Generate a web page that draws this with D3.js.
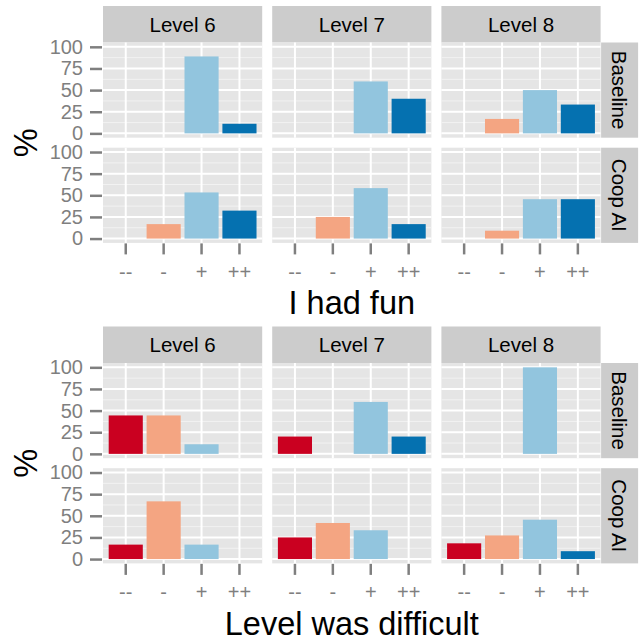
<!DOCTYPE html>
<html>
<head>
<meta charset="utf-8">
<script src="https://cdn.jsdelivr.net/npm/d3@7"></script>
<style>
  body { margin: 0; background: #fff; }
  svg { display: block; font-family: "Liberation Sans", Arial, sans-serif; }
</style>
</head>
<body>
<svg id="chart" width="639" height="639"></svg>
<script>
// categories and facets
var answers = ["--", "-", "+", "++"];
var levels = ["Level 6", "Level 7", "Level 8"];
var groups = ["Baseline", "Coop AI"];
var yTicks = [0, 25, 50, 75, 100];
var yMinor = [12.5, 37.5, 62.5, 87.5];
var colors = ["#ca0020", "#f4a582", "#92c5de", "#0571b0"];

// "I had fun" -- one row per level, values in % for -- - + ++
var funBaseline = [[0, 0, 88.9, 11.1], [0, 0, 60, 40], [0, 16.7, 50, 33.3]];
var funCoop = [[0, 16.7, 53.3, 32.3], [0, 25, 58.3, 16.7], [0, 9.1, 45.5, 45.5]];

// "Level was difficult"
var diffBaseline = [[44.4, 44.4, 11.1, 0], [20, 0, 60, 20], [0, 0, 100, 0]];
var diffCoop = [[16.7, 66.7, 16.7, 0], [25, 41.7, 33.3, 0], [18.2, 27.3, 45.5, 9.1]];

var svg = d3.select("#chart");

var layout = {
  left: 103,
  stripTop: 6,
  stripH: 36.5,
  panelW: 159.2,
  panelH: 95.2,
  gap: 10,
  rightStrip: 37
};

function drawFacets(offsetY, title, baseline, coop) {
  var g = svg.append("g")
      .attr("transform", "translate(0," + offsetY + ")");
  var L = layout;
  var panelTop = L.stripTop + L.stripH;
  var rows = [baseline, coop];

  var x = d3.scaleBand()
      .domain(answers)
      .range([0, L.panelW])
      .paddingInner(0.1)
      .paddingOuter(0.15);

  levels.forEach(function(level, c) {
    var px = L.left + c * (L.panelW + L.gap);

    // top strip
    g.append("rect")
        .attr("x", px).attr("y", L.stripTop)
        .attr("width", L.panelW).attr("height", L.stripH)
        .attr("fill", "#cccccc");
    g.append("text")
        .attr("x", px + L.panelW / 2)
        .attr("y", L.stripTop + L.stripH / 2)
        .attr("dy", "0.36em")
        .attr("text-anchor", "middle")
        .style("font-size", "20.5px")
        .text(level);

    rows.forEach(function(rowData, r) {
      var py = panelTop + r * (L.panelH + L.gap);
      var y = d3.scaleLinear()
          .domain([-5, 105])
          .range([py + L.panelH, py]);

      var panel = g.append("g");
      panel.append("rect")
          .attr("x", px).attr("y", py)
          .attr("width", L.panelW).attr("height", L.panelH)
          .attr("fill", "#e5e5e5");

      panel.selectAll(".minor")
        .data(yMinor)
        .enter().append("line")
          .attr("x1", px).attr("x2", px + L.panelW)
          .attr("y1", d => y(d)).attr("y2", d => y(d))
          .attr("stroke", "#f2f2f2")
          .attr("stroke-width", 1);

      panel.selectAll(".major")
        .data(yTicks)
        .enter().append("line")
          .attr("x1", px).attr("x2", px + L.panelW)
          .attr("y1", d => y(d)).attr("y2", d => y(d))
          .attr("stroke", "#ffffff")
          .attr("stroke-width", 2);

      panel.selectAll(".vgrid")
        .data(answers)
        .enter().append("line")
          .attr("x1", d => px + x(d) + x.bandwidth() / 2)
          .attr("x2", d => px + x(d) + x.bandwidth() / 2)
          .attr("y1", py).attr("y2", py + L.panelH)
          .attr("stroke", "#ffffff")
          .attr("stroke-width", 2);

      var bars = answers.map((a, i) => ({ answer: a, idx: i, value: rowData[c][i] }))
                        .filter(d => d.value > 0);

      panel.selectAll(".bar")
        .data(bars)
        .enter().append("rect")
          .classed("bar", true)
          .attr("x", d => px + x(d.answer))
          .attr("width", x.bandwidth())
          .attr("y", d => y(d.value))
          .attr("height", d => y(0) - y(d.value))
          .attr("fill", d => colors[d.idx]);

      // y axis on first column
      if (c === 0) {
        var yAxis = d3.axisLeft(y)
            .tickValues(yTicks)
            .tickSize(12)
            .tickPadding(7);
        var ya = g.append("g")
            .attr("transform", "translate(" + (px - 1) + ",0)")
            .call(yAxis);
        styleAxis(ya);
      }

      // right strip on last column
      if (c === levels.length - 1) {
        g.append("rect")
            .attr("x", px + L.panelW + 0.5).attr("y", py)
            .attr("width", L.rightStrip).attr("height", L.panelH)
            .attr("fill", "#cccccc");
        g.append("text")
            .attr("transform", "translate(" + (px + L.panelW + 0.5 + L.rightStrip / 2) + "," +
                  (py + L.panelH / 2) + ") rotate(90)")
            .attr("dy", "0.36em")
            .attr("text-anchor", "middle")
            .style("font-size", "20.5px")
            .text(groups[r]);
      }
    });

    // x axis under bottom row
    var bottom = panelTop + 2 * L.panelH + L.gap;
    var xAxis = d3.axisBottom(x)
        .tickSize(11)
        .tickPadding(10);
    var xa = g.append("g")
        .attr("transform", "translate(" + px + "," + (bottom + 0.5) + ")")
        .call(xAxis);
    styleAxis(xa);
  });

  // axis titles
  var totalW = 3 * L.panelW + 2 * L.gap;
  g.append("text")
      .attr("x", L.left + totalW / 2)
      .attr("y", 314)
      .attr("text-anchor", "middle")
      .style("font-size", "32.5px")
      .text(title);

  g.append("text")
      .attr("transform", "translate(25.5," + (panelTop + L.panelH + L.gap / 2) + ") rotate(-90)")
      .attr("dy", "0.36em")
      .attr("text-anchor", "middle")
      .style("font-size", "32.5px")
      .text("%");
}

function styleAxis(sel) {
  sel.select(".domain").remove();
  sel.selectAll(".tick line")
      .attr("stroke", "#7f7f7f")
      .attr("stroke-width", 2.5);
  sel.selectAll(".tick text")
      .attr("fill", "#7f7f7f")
      .style("font-size", "20px")
      .style("font-family", "Liberation Sans, Arial, sans-serif");
}

drawFacets(0, "I had fun", funBaseline, funCoop);
drawFacets(320.5, "Level was difficult", diffBaseline, diffCoop);
</script>
</body>
</html>
